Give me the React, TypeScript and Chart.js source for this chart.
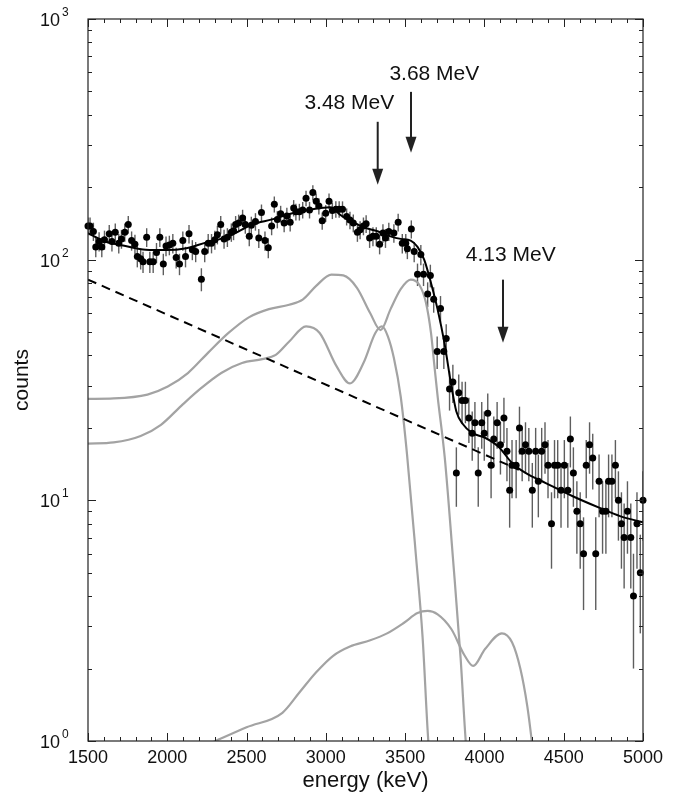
import React, { useEffect, useRef } from "react";
import { Chart, registerables } from "chart.js";

Chart.register(...registerables);

// ---- measured spectrum (energy in keV, counts, statistical error) ----
const energies = [
  1500, 1513, 1534, 1549, 1570, 1587, 1604, 1634, 1651, 1672,
  1694, 1711, 1732, 1754, 1775, 1796, 1811, 1832, 1847, 1870,
  1890, 1911, 1932, 1953, 1975, 1992, 2013, 2035, 2056, 2077,
  2098, 2115, 2137, 2158, 2179, 2215, 2236, 2258, 2279, 2300,
  2316, 2337, 2358, 2379, 2404, 2418, 2431, 2450, 2475, 2492,
  2517, 2530, 2556, 2577, 2594, 2616, 2637, 2658, 2675, 2694,
  2715, 2737, 2754, 2775, 2797, 2811, 2833, 2854, 2875, 2897,
  2918, 2939, 2956, 2977, 2999, 3020, 3041, 3063, 3084, 3105,
  3131, 3152, 3173, 3199, 3216, 3237, 3254, 3276, 3297, 3318,
  3339, 3360, 3376, 3397, 3429, 3456, 3482, 3504, 3514, 3539,
  3557, 3578, 3599, 3616, 3642, 3659, 3680, 3702, 3723, 3744,
  3759, 3780, 3801, 3823, 3838, 3859, 3880, 3902, 3923, 3940,
  3961, 3983, 3999, 4021, 4042, 4059, 4080, 4101, 4123, 4142,
  4159, 4174, 4200, 4221, 4238, 4259, 4280, 4302, 4323, 4340,
  4361, 4382, 4401, 4423, 4442, 4462, 4483, 4504, 4526, 4542,
  4561, 4583, 4604, 4625, 4642, 4663, 4683, 4702, 4723, 4745,
  4766, 4783, 4804, 4826, 4845, 4864, 4881, 4902, 4923, 4940,
  4962, 4983, 5000,
];
const counts = [
  138, 138, 131, 113, 119, 113, 121, 128, 119, 130,
  117, 122, 130, 140, 120, 116, 103, 101, 98, 124,
  98, 98, 107, 124, 96, 114, 115, 117, 102, 96,
  120, 103, 128, 110, 108, 83, 108, 117, 117, 121,
  127, 140, 122, 124, 130, 132, 140, 142, 149, 140,
  125, 139, 144, 123, 157, 120, 112, 138, 170, 147,
  155, 142, 152, 143, 164, 158, 158, 161, 180, 161,
  190, 175, 167, 145, 156, 175, 160, 162, 162, 162,
  151, 146, 142, 130, 133, 138, 141, 123, 125, 125,
  116, 129, 123, 131, 129, 143, 117, 117, 111, 134,
  108, 87, 105, 87, 72, 86, 68.5, 41.5, 62.7, 41.5,
  47, 29, 31, 13, 28, 26, 26, 22, 19, 21,
  13, 21, 19, 23, 14, 18, 21, 17, 22, 16,
  11, 14, 14, 20, 16, 17, 16, 11, 16, 12,
  16, 17, 14, 8, 14, 14, 11, 14, 11, 18,
  13, 9, 8, 6, 14, 17, 15, 6, 12, 9,
  9, 12, 12, 14, 10, 8, 7, 9, 7, 4,
  8, 5, 10,
];
const errors = [
  11.7, 11.7, 11.4, 10.6, 10.9, 10.6, 11, 11.3, 10.9, 11.4,
  10.8, 11, 11.4, 11.8, 11, 10.8, 10.1, 10, 9.9, 11.1,
  9.9, 9.9, 10.3, 11.1, 9.8, 10.7, 10.7, 10.8, 10.1, 9.8,
  11, 10.1, 11.3, 10.5, 10.4, 9.1, 10.4, 10.8, 10.8, 11,
  11.3, 11.8, 11, 11.1, 11.4, 11.5, 11.8, 11.9, 12.2, 11.8,
  11.2, 11.8, 12, 11.1, 12.5, 11, 10.6, 11.7, 13, 12.1,
  12.4, 11.9, 12.3, 12, 12.8, 12.6, 12.6, 12.7, 13.4, 12.7,
  13.8, 13.2, 12.9, 12, 12.5, 13.2, 12.6, 12.7, 12.7, 12.7,
  12.3, 12.1, 11.9, 11.4, 11.5, 11.7, 11.9, 11.1, 11.2, 11.2,
  10.8, 11.4, 11.1, 11.4, 11.4, 12, 10.8, 10.8, 10.5, 11.6,
  10.4, 9.3, 10.2, 9.3, 8.5, 9.3, 8.3, 6.4, 7.9, 6.4,
  6.9, 5.4, 5.6, 3.6, 5.3, 5.1, 5.1, 4.7, 4.4, 4.6,
  3.6, 4.6, 4.4, 4.8, 3.8, 4.3, 4.6, 4.2, 4.7, 4,
  3.3, 3.8, 3.8, 4.5, 4, 4.1, 4, 3.3, 4, 3.5,
  4, 4.1, 3.8, 2.8, 3.8, 3.8, 3.3, 3.8, 3.3, 4.3,
  3.6, 3, 2.8, 2.5, 3.8, 4.1, 3.9, 2.5, 3.5, 3,
  3, 3.5, 3.5, 3.8, 3.2, 2.8, 2.7, 3, 2.7, 2,
  2.8, 2.2, 3.2,
];

// ---- total fit (solid black) ----
const fitEnergy = [
  1500, 1609, 1736, 1864, 1992, 2120, 2247, 2375, 2420, 2535,
  2662, 2790, 2918, 3025, 3050, 3088, 3173, 3258, 3330, 3408,
  3472, 3535, 3578, 3620, 3663, 3705, 3748, 3791, 3823, 3865,
  3919, 4004, 4089, 4174, 4259, 4387, 4557, 4727, 4855, 5000,
];
const fitCounts = [
  129, 119, 114, 110, 109.6, 111.6, 118, 124, 128, 140,
  147, 156, 162, 165, 163, 154, 143, 135, 131, 125,
  122, 120, 113, 100, 80, 62, 45, 30, 23.4, 20.7,
  19.1, 18.2, 16.7, 14.3, 13, 11.8, 10.4, 9.3, 8.6, 8.1,
];

// ---- exponential background (dashed), drawn until it joins the fit ----
const bgEnergy = [1500, 4217];
const bgCounts = [82.6, 13.4];

// ---- response of the 3.68 MeV line (grey) ----
const respAEnergy = [
  1500, 1662, 1875, 2003, 2130, 2258, 2386, 2514, 2641, 2769,
  2854, 2939, 3035, 3110, 3195, 3280, 3345, 3408, 3472, 3535,
  3589, 3631, 3663, 3684, 3705, 3750, 3801, 3850, 3882, 3900,
];
const respACounts = [
  26.4, 26.5, 27.5, 29.7, 33.8, 41.1, 49.6, 57.6, 62.3, 65,
  68.2, 77.8, 86.7, 86, 76.6, 59.9, 51, 62.3, 75.4, 82.6,
  78.7, 66.4, 49.6, 36.5, 27, 15, 5.8, 2.2, 1.0, 0.75,
];

// ---- response of the 3.48 MeV line (grey) ----
const respBEnergy = [
  1500, 1662, 1832, 1960, 2088, 2215, 2343, 2471, 2599, 2684,
  2769, 2875, 2961, 3067, 3152, 3237, 3312, 3354, 3391, 3429,
  3472, 3512, 3567, 3610, 3646, 3660,
];
const respBCounts = [
  17.2, 17.4, 18.5, 20.6, 24.7, 29.3, 33.9, 37.2, 38.6, 40.2,
  45.7, 52.8, 49.6, 36.1, 30.6, 37.2, 49.6, 52.8, 48, 39,
  27, 15.5, 6, 2.7, 1.0, 0.8,
];

// ---- response of the 4.13 MeV line (grey) ----
const respCEnergy = [
  2290, 2500, 2726, 2833, 2939, 3046, 3152, 3280, 3386, 3493,
  3578, 3642, 3705, 3791, 3876, 3929, 4004, 4110, 4174, 4227,
  4270, 4297, 4310,
];
const respCCounts = [
  0.99, 1.14, 1.31, 1.59, 1.93, 2.26, 2.47, 2.62, 2.8, 3.1,
  3.4, 3.47, 3.36, 2.92, 2.26, 2.05, 2.41, 2.8, 2.57, 1.99,
  1.4, 1.02, 0.85,
];

// ---- axis ticks ----
const xMajorTicks = [1500, 2000, 2500, 3000, 3500, 4000, 4500, 5000];
const yDecadeExponents = [0, 1, 2, 3];

// ---- arrows with labels (energy in keV, counts) ----
const arrowLabels = ["3.48 MeV", "3.68 MeV", "4.13 MeV"];
const arrowEnergy = [3327, 3537, 4117];
const arrowTopCounts = [374, 498, 82.6];
const arrowTipCounts = [205, 278, 45.2];
const labelEnergy = [3148, 3684, 4166];
const labelCounts = [423, 558, 98.4];

const FONT = '"Liberation Sans", Arial, Helvetica, sans-serif';

const decorPlugin = {
  id: "decor",
  beforeDatasetsDraw(chart: any) {
    const { ctx, chartArea: a, scales } = chart;
    const xs = scales.x;
    const ys = scales.y;
    ctx.save();
    ctx.beginPath();
    ctx.rect(a.left, a.top, a.right - a.left, a.bottom - a.top);
    ctx.clip();
    ctx.strokeStyle = "#5e5e5e";
    ctx.lineWidth = 1.4;
    for (let i = 0; i < energies.length; i++) {
      const px = xs.getPixelForValue(energies[i]);
      const hi = ys.getPixelForValue(counts[i] + errors[i]);
      const lo = ys.getPixelForValue(Math.max(counts[i] - errors[i], 0.1));
      ctx.beginPath();
      ctx.moveTo(px, hi);
      ctx.lineTo(px, lo);
      ctx.stroke();
    }
    ctx.restore();
  },
  afterDraw(chart: any) {
    const { ctx, chartArea: a, scales } = chart;
    const xs = scales.x;
    const ys = scales.y;
    ctx.save();
    // frame
    ctx.strokeStyle = "#222";
    ctx.lineWidth = 1.2;
    ctx.strokeRect(a.left, a.top, a.right - a.left, a.bottom - a.top);

    // x ticks (inward, bottom and top)
    ctx.lineWidth = 1;
    for (let v = 1500; v <= 5000; v += 100) {
      const px = Math.round(xs.getPixelForValue(v)) + 0.5;
      const len = v % 500 === 0 ? 8 : 4;
      ctx.beginPath();
      ctx.moveTo(px, a.bottom);
      ctx.lineTo(px, a.bottom - len);
      ctx.moveTo(px, a.top);
      ctx.lineTo(px, a.top + len);
      ctx.stroke();
    }
    // y ticks (inward, left and right)
    for (const e of yDecadeExponents) {
      for (let m = 1; m <= 9; m++) {
        if (e === 3 && m > 1) break;
        const v = m * Math.pow(10, e);
        const py = Math.round(ys.getPixelForValue(v)) + 0.5;
        const len = m === 1 ? 8 : 4;
        ctx.beginPath();
        ctx.moveTo(a.left, py);
        ctx.lineTo(a.left + len, py);
        ctx.moveTo(a.right, py);
        ctx.lineTo(a.right - len, py);
        ctx.stroke();
      }
    }

    // x tick labels
    ctx.fillStyle = "#111";
    ctx.font = `18px ${FONT}`;
    ctx.textAlign = "center";
    ctx.textBaseline = "top";
    for (const v of xMajorTicks) {
      ctx.fillText(String(v), xs.getPixelForValue(v), a.bottom + 8);
    }
    // y tick labels 10^n
    for (const e of yDecadeExponents) {
      const py = ys.getPixelForValue(Math.pow(10, e));
      ctx.font = `18px ${FONT}`;
      ctx.textAlign = "right";
      ctx.textBaseline = "alphabetic";
      ctx.fillText("10", a.left - 28, py + 7);
      ctx.font = `12px ${FONT}`;
      ctx.textAlign = "left";
      ctx.fillText(String(e), a.left - 26, py - 3);
    }
    // axis titles
    ctx.font = `22px ${FONT}`;
    ctx.textAlign = "center";
    ctx.textBaseline = "alphabetic";
    ctx.fillText("energy (keV)", (a.left + a.right) / 2, 787);
    ctx.save();
    ctx.translate(22, (a.top + a.bottom) / 2);
    ctx.rotate(-Math.PI / 2);
    ctx.textBaseline = "middle";
    ctx.font = `21px ${FONT}`;
    ctx.fillText("counts", 0, 0);
    ctx.restore();

    // arrows + labels
    ctx.strokeStyle = "#222";
    ctx.fillStyle = "#222";
    ctx.lineWidth = 2;
    for (let i = 0; i < arrowLabels.length; i++) {
      const px = xs.getPixelForValue(arrowEnergy[i]);
      const top = ys.getPixelForValue(arrowTopCounts[i]);
      const tip = ys.getPixelForValue(arrowTipCounts[i]);
      const head = 16;
      ctx.beginPath();
      ctx.moveTo(px, top);
      ctx.lineTo(px, tip - head + 2);
      ctx.stroke();
      ctx.beginPath();
      ctx.moveTo(px - 5.5, tip - head);
      ctx.lineTo(px + 5.5, tip - head);
      ctx.lineTo(px, tip);
      ctx.closePath();
      ctx.fill();
      ctx.font = `21px ${FONT}`;
      ctx.textAlign = "center";
      ctx.textBaseline = "alphabetic";
      ctx.fillStyle = "#111";
      ctx.fillText(arrowLabels[i], xs.getPixelForValue(labelEnergy[i]), ys.getPixelForValue(labelCounts[i]));
      ctx.fillStyle = "#222";
    }
    ctx.restore();
  },
};

function pts(xsArr: number[], ysArr: number[]) {
  return xsArr.map((x, i) => ({ x, y: ysArr[i] }));
}

export default function App() {
  const ref = useRef<HTMLCanvasElement | null>(null);
  useEffect(() => {
    const canvas = ref.current;
    if (!canvas) return;
    const grey = "#a3a3a3";
    const chart = new Chart(canvas, {
      type: "line",
      data: {
        datasets: [
          {
            label: "data",
            data: pts(energies, counts),
            showLine: false,
            pointRadius: 3.5,
            pointBackgroundColor: "#000",
            pointBorderColor: "#000",
            pointBorderWidth: 0,
            order: 0,
            clip: false,
          } as any,
          {
            label: "fit",
            data: pts(fitEnergy, fitCounts),
            borderColor: "#000",
            borderWidth: 2,
            pointRadius: 0,
            cubicInterpolationMode: "monotone",
            order: 1,
          },
          {
            label: "background",
            data: pts(bgEnergy, bgCounts),
            borderColor: "#000",
            borderWidth: 2,
            borderDash: [9, 6],
            pointRadius: 0,
            order: 2,
          },
          {
            label: "3.68 MeV",
            data: pts(respAEnergy, respACounts),
            borderColor: grey,
            borderWidth: 2.2,
            pointRadius: 0,
            cubicInterpolationMode: "monotone",
            order: 3,
          },
          {
            label: "3.48 MeV",
            data: pts(respBEnergy, respBCounts),
            borderColor: grey,
            borderWidth: 2.2,
            pointRadius: 0,
            cubicInterpolationMode: "monotone",
            order: 3,
          },
          {
            label: "4.13 MeV",
            data: pts(respCEnergy, respCCounts),
            borderColor: grey,
            borderWidth: 2.2,
            pointRadius: 0,
            cubicInterpolationMode: "monotone",
            order: 3,
          },
        ],
      },
      options: {
        responsive: false,
        animation: false,
        devicePixelRatio: 1,
        events: [],
        layout: { padding: { left: 88, right: 30, top: 19, bottom: 59 } },
        plugins: { legend: { display: false }, tooltip: { enabled: false } },
        scales: {
          x: { type: "linear", min: 1500, max: 5000, display: false },
          y: { type: "logarithmic", min: 1, max: 1000, display: false },
        },
      },
      plugins: [decorPlugin],
    });
    return () => chart.destroy();
  }, []);
  return (
    <div style={{ position: "absolute", left: 0, top: 0, width: 673, height: 800, background: "#fff" }}>
      <canvas ref={ref} width={673} height={800} style={{ display: "block" }} />
    </div>
  );
}
